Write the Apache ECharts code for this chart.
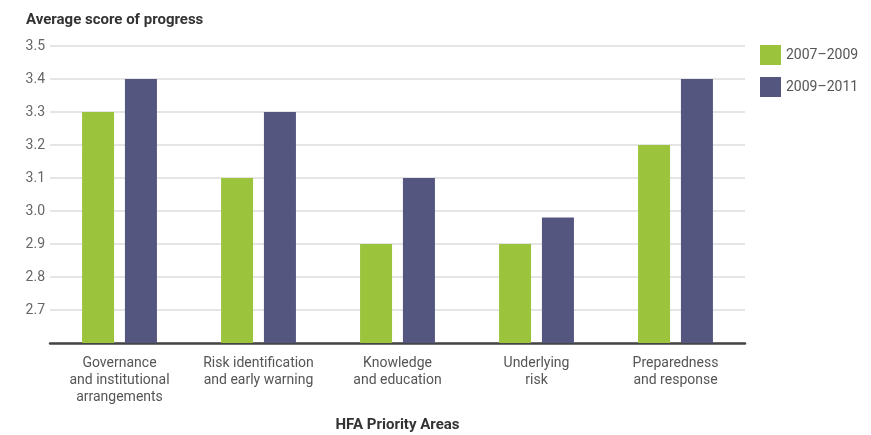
<!DOCTYPE html>
<html>
<head>
<meta charset="utf-8">
<script src="https://cdn.jsdelivr.net/npm/echarts@6/dist/echarts.min.js"></script>
<style>
  html, body { margin: 0; padding: 0; background: #fff; }
  #chart { width: 871px; height: 435px; }
</style>
</head>
<body>
<div id="chart"></div>
<script>
// HFA priority areas and average progress scores per reporting cycle
const categories = [
  'Governance\nand institutional\narrangements',
  'Risk identification\nand early warning',
  'Knowledge\nand education',
  'Underlying\nrisk',
  'Preparedness\nand response'
];
const series2007 = [3.3, 3.1, 2.9, 2.9, 3.2];
const series2009 = [3.4, 3.3, 3.1, 2.98, 3.4];
const seriesNames = ['2007\u20132009', '2009\u20132011'];

const chart = echarts.init(document.getElementById('chart'), null, { renderer: 'canvas' });
const font = 'Roboto, "Noto Sans", sans-serif';

chart.setOption({
  animation: false,
  textStyle: { fontFamily: font },
  title: {
    text: 'Average score of progress',
    left: 21, top: 8,
    textStyle: { fontSize: 15, fontWeight: 'bold', color: '#333', fontFamily: font }
  },
  legend: {
    orient: 'vertical',
    left: 755, top: 40,
    itemWidth: 21, itemHeight: 20, itemGap: 12,
    icon: 'rect',
    textStyle: { fontSize: 14, color: '#555', fontFamily: font },
    data: seriesNames
  },
  grid: {
    left: 50, right: 126, top: 46, bottom: 92,
    containLabel: false, outerBoundsMode: 'none'
  },
  xAxis: {
    type: 'category',
    data: categories,
    name: 'HFA Priority Areas',
    nameLocation: 'middle',
    nameGap: 75,
    nameTextStyle: { fontSize: 15, fontWeight: 'bold', color: '#333', fontFamily: font },
    axisLine: { lineStyle: { color: '#444', width: 2.5 } },
    axisTick: { show: false },
    axisLabel: { fontSize: 14, color: '#555', lineHeight: 17, margin: 12, interval: 0, fontFamily: font }
  },
  yAxis: {
    type: 'value',
    min: 2.6, max: 3.5, interval: 0.1,
    axisLine: { show: false },
    axisTick: { show: false },
    splitLine: { lineStyle: { color: '#dcdcdc', width: 1.5 } },
    axisLabel: {
      fontSize: 14, color: '#666', margin: 5, fontFamily: font,
      formatter: v => (Math.abs(v - 2.6) < 1e-6 ? '' : v.toFixed(1))
    }
  },
  series: [
    {
      name: seriesNames[0], type: 'bar', data: series2007,
      barWidth: 32, barGap: '34%',
      itemStyle: { color: '#9bc43c' }
    },
    {
      name: seriesNames[1], type: 'bar', data: series2009,
      barWidth: 32,
      itemStyle: { color: '#545680' }
    }
  ]
});
</script>
</body>
</html>
